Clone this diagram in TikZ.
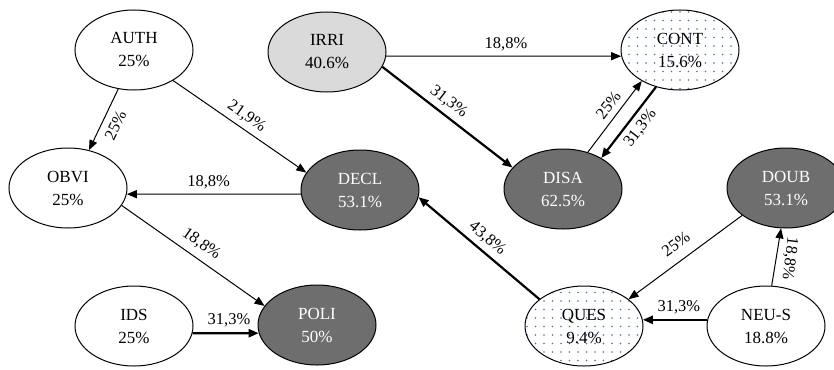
\documentclass[tikz,border=0pt]{standalone}
\usepackage{fontspec}
\setmainfont{Liberation Serif}
\usetikzlibrary{shapes.geometric,arrows.meta,patterns.meta}
\definecolor{darkfill}{HTML}{6E6E6E}
\definecolor{lightfill}{HTML}{DADADA}
\definecolor{dotblue}{HTML}{4A6FC0}
\begin{document}
\begin{tikzpicture}[x=1pt,y=-1pt,
  st/.style={ellipse, draw=black, line width=1pt, minimum width=118pt, minimum height=80pt, inner sep=0pt, align=center, font=\fontsize{17}{23}\selectfont},
  wnode/.style={st, fill=white},
  dnode/.style={st, fill=darkfill, text=white},
  lnode/.style={st, fill=lightfill},
  pnode/.style={st, pattern={Dots[radius=0.9pt,distance=8.5pt]}, pattern color=dotblue},
  thinarr/.style={-{Triangle[length=10pt,width=8pt]}, line width=1pt},
  thickarr/.style={-{Triangle[length=10pt,width=8pt]}, line width=2.2pt},
  lab/.style={font=\fontsize{16.5}{18}\selectfont, sloped, inner sep=5pt}
]
\clip (0,0) rectangle (834,369);
\fill[white] (0,0) rectangle (834,369);

\node[wnode] (AUTH) at (134,50) {AUTH\\25\%};
\node[wnode] (OBVI) at (68,188) {OBVI\\25\%};
\node[wnode] (IDS)  at (134,326) {IDS\\25\%};
\node[dnode] (POLI) at (317,325) {POLI\\50\%};
\node[dnode] (DECL) at (360,190) {DECL\\53.1\%};
\node[lnode] (IRRI) at (327,52) {IRRI\\40.6\%};
\node[pnode] (CONT) at (680,50) {CONT\\15.6\%};
\node[dnode] (DISA) at (563,189) {DISA\\62.5\%};
\node[dnode] (DOUB) at (786,188) {DOUB\\53.1\%};
\node[pnode] (QUES) at (584,326) {QUES\\9.4\%};
\node[wnode] (NEUS) at (766,326) {NEU-S\\18.8\%};

\draw[thinarr] (AUTH.248) -- node[lab, inner sep=7pt, pos=0.5, below] {25\%} (OBVI.61);
\draw[thinarr] (AUTH.-38) -- node[lab, pos=0.5, above] {21,9\%} (DECL.162);
\draw[thinarr] (DECL.184) -- node[lab, pos=0.53, above] {18,8\%} (OBVI.-6);
\draw[thinarr] (OBVI.-18) -- node[lab, inner sep=7pt, pos=0.5, above] {18,8\%} (POLI.160);
\draw[thickarr] (IDS.-7) -- node[lab, pos=0.55, above] {31,3\%} (POLI.188);
\draw[thinarr] (IRRI.-4) -- node[lab, pos=0.51, above] {18,8\%} (CONT.186);
\draw[thickarr] (IRRI.-15) -- node[lab, pos=0.45, above] {31,3\%} (DISA.157);
\draw[thinarr] (DISA.56) -- node[lab, inner sep=6pt, pos=0.56, above] {25\%} (CONT.219);
\draw[thickarr] (CONT.237) -- node[lab, pos=0.47, below] {31,3\%} (DISA.39);
\draw[thickarr] (QUES.149) -- node[lab, pos=0.5, above] {43,8\%} (DECL.-7);
\draw[thinarr] (DOUB.212) -- node[lab, inner sep=10pt, pos=0.5, above] {25\%} (QUES.31);
\draw[thinarr] (NEUS.82) -- node[font=\fontsize{16.5}{18}\selectfont, inner sep=6pt, pos=0.5, rotate=-97, anchor=south] {18,8\%} (DOUB.263);
\draw[thickarr] (NEUS.174) -- node[lab, pos=0.44, above] {31,3\%} (QUES.6);
\end{tikzpicture}
\end{document}
